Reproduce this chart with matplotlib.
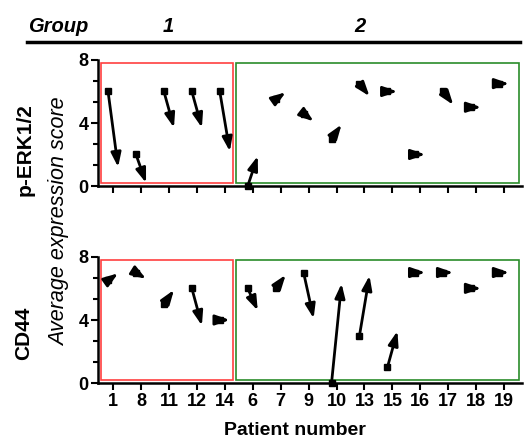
import numpy as np
import matplotlib
matplotlib.use("Agg")
import matplotlib.pyplot as plt
from matplotlib.patches import Rectangle, FancyArrowPatch
from matplotlib.lines import Line2D

plt.rcParams['font.family'] = ['Liberation Sans', 'DejaVu Sans']

# patient order on the x axis (group 1 first, then group 2)
patients = ['1', '8', '11', '12', '14', '6', '7', '9', '10', '13', '15', '16', '17', '18', '19']
n_group1 = 5

# p-ERK1/2 : start value -> end value of each arrow
erk_start = [6.0, 2.0, 6.0, 6.0, 6.0, 0.0, 5.5, 4.6, 3.0, 6.5, 6.0, 2.0, 6.0, 5.0, 6.5]
erk_end   = [1.2, 0.2, 3.7, 3.7, 2.2, 1.9, 5.95, 4.1, 3.9, 5.7, 6.0, 2.0, 5.15, 5.0, 6.5]

# CD44
cd44_start = [6.5, 7.0, 5.0, 6.0, 4.0, 6.0, 6.0, 7.0, 0.0, 3.0, 1.0, 7.0, 7.0, 6.0, 7.0]
cd44_end   = [6.95, 6.6, 5.9, 3.65, 4.0, 4.6, 6.85, 4.1, 6.3, 6.8, 3.3, 7.0, 7.0, 6.0, 7.0]

fig = plt.figure(figsize=(5.28, 4.4), dpi=100)
ax_top = fig.add_axes([98/528, 1-186/440, 424/528, 126/440])
ax_bot = fig.add_axes([98/528, 1-383.3/440, 424/528, 126.6/440])

x = np.arange(len(patients))

def draw_panel(ax, start, end, show_labels):
    # arrows go from the start square to the end value, drawn over the squares
    for i in range(len(patients)):
        arr = FancyArrowPatch((x[i]-0.18, start[i]), (x[i]+0.18, end[i]),
                              arrowstyle='-|>,head_length=0.85,head_width=0.3',
                              mutation_scale=10, lw=2, color='black',
                              shrinkA=0, shrinkB=0, clip_on=False, zorder=4)
        ax.add_patch(arr)
    ax.plot(x-0.18, start, 's', color='black', ms=5, clip_on=False, zorder=3)
    # group boxes
    ax.add_patch(Rectangle((-0.42, 0.2), 4.73, 7.6,
                           fill=False, ec='#ff4040', lw=1.2, zorder=2))
    ax.add_patch(Rectangle((4.4, 0.2), 10.15, 7.6,
                           fill=False, ec='#2a8c2a', lw=1.2, zorder=2))
    ax.set_xlim(-0.54, 14.64)
    ax.set_ylim(0, 8)
    ax.set_yticks([0, 4, 8])
    ax.set_yticks(np.arange(0, 8.01, 4/3), minor=True)
    ax.set_xticks(x)
    if show_labels:
        ax.set_xticklabels(patients, fontsize=13, fontweight='bold')
    else:
        ax.set_xticklabels([])
    ax.set_yticklabels(['0', '4', '8'], fontsize=13, fontweight='bold')
    for s in ['top', 'right']:
        ax.spines[s].set_visible(False)
    for s in ['left', 'bottom']:
        ax.spines[s].set_linewidth(1.8)
    ax.tick_params(which='major', length=5, width=1.5, direction='out', pad=2)
    ax.tick_params(which='minor', axis='y', length=3.5, width=1.5)
    ax.tick_params(which='minor', axis='x', length=0)

draw_panel(ax_top, erk_start, erk_end, False)
draw_panel(ax_bot, cd44_start, cd44_end, True)

# group header
fig.text(28/528, 1-26/440, 'Group', fontsize=14.5, fontweight='bold', style='italic',
         ha='left', va='center')
fig.text(168/528, 1-26/440, '1', fontsize=14.5, fontweight='bold', style='italic',
         ha='center', va='center')
fig.text(360/528, 1-26/440, '2', fontsize=14.5, fontweight='bold', style='italic',
         ha='center', va='center')
fig.add_artist(Line2D([27/528, 520/528], [1-41.7/440, 1-41.7/440], color='black', lw=2.5))

# axis titles
fig.text(25/528, 1-150/440, 'p-ERK1/2', fontsize=15, fontweight='bold', rotation=90,
         ha='center', va='center')
fig.text(24/528, 1-333/440, 'CD44', fontsize=15, fontweight='bold', rotation=90,
         ha='center', va='center')
fig.text(60/528, 1-222/440, 'Average expression score', fontsize=15.5, style='italic',
         rotation=90, ha='center', va='center')
fig.text(295/528, 1-430/440, 'Patient number', fontsize=14, fontweight='bold',
         ha='center', va='center')

fig.savefig('out.png', dpi=100)
